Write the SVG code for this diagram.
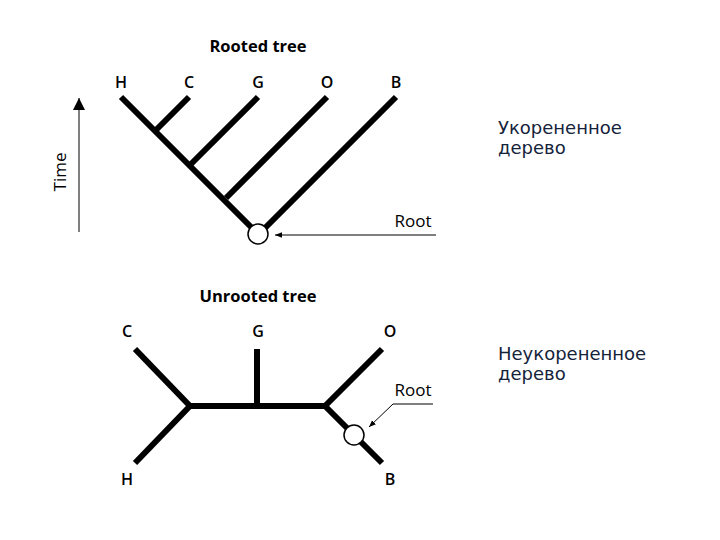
<svg xmlns="http://www.w3.org/2000/svg" width="720" height="540" viewBox="0 0 720 540">
<defs>
<style>
.br{stroke:#000;stroke-width:6;fill:none;stroke-linecap:butt}
.thin{stroke:#000;stroke-width:1;fill:none}
.lbl{font-family:"Open Sans","Noto Sans",sans-serif;font-size:16px;font-weight:600;fill:#000;text-anchor:middle}
.rt{font-family:"Open Sans","Noto Sans",sans-serif;font-size:17px;fill:#000;text-anchor:middle}
.ttl{font-family:"Open Sans","Noto Sans",sans-serif;font-size:16.5px;font-weight:bold;fill:#000;text-anchor:middle}
.ru{font-family:"DejaVu Sans",sans-serif;font-size:18px;fill:#14233a}
.node{fill:#fff;stroke:#000;stroke-width:1.5}
</style>
<marker id="ah" viewBox="0 0 10 10" refX="10" refY="5" markerWidth="7" markerHeight="7" orient="auto" markerUnits="userSpaceOnUse"><path d="M0,1 L10,5 L0,9 z" fill="#000"/></marker>
<marker id="big" viewBox="0 0 10 10" refX="10" refY="5" markerWidth="12" markerHeight="12" orient="auto" markerUnits="userSpaceOnUse"><path d="M0,0 L10,5 L0,10 z" fill="#000"/></marker>
</defs>
<rect width="720" height="540" fill="#fff"/>

<g id="rooted">
<text class="ttl" x="258" y="52">Rooted tree</text>
<g id="connectors-rooted">
<line class="br" x1="121" y1="97" x2="251" y2="227"/>
<line class="br" x1="396" y1="97" x2="265" y2="228"/>
<line class="br" x1="189" y1="97" x2="156" y2="130"/>
<line class="br" x1="258" y1="97" x2="191" y2="164"/>
<line class="br" x1="327" y1="97" x2="226" y2="198"/>
<line class="thin" x1="436" y1="235" x2="275" y2="235" marker-end="url(#ah)"/>
<line class="thin" x1="79" y1="232" x2="79" y2="98" marker-end="url(#big)"/>
</g>
<g id="r-H"><text class="lbl" x="121" y="88">H</text></g>
<g id="r-C"><text class="lbl" x="189" y="88">C</text></g>
<g id="r-G"><text class="lbl" x="258" y="88">G</text></g>
<g id="r-O"><text class="lbl" x="327" y="88">O</text></g>
<g id="r-B"><text class="lbl" x="396" y="88">B</text></g>
<g id="r-root"><circle class="node" cx="258" cy="234" r="10"/></g>
<text class="rt" x="413" y="227">Root</text>
<text class="rt" x="0" y="0" transform="translate(66,172) rotate(-90)">Time</text>
</g>

<g id="unrooted">
<text class="ttl" x="258" y="302">Unrooted tree</text>
<g id="connectors-unrooted">
<line class="br" x1="135" y1="349" x2="190" y2="406"/>
<line class="br" x1="135" y1="463" x2="190" y2="406"/>
<line class="br" x1="188" y1="406" x2="327" y2="406"/>
<line class="br" x1="257" y1="349" x2="257" y2="406"/>
<line class="br" x1="382" y1="349" x2="325" y2="406"/>
<line class="br" x1="325" y1="406" x2="382" y2="463"/>
<polyline class="thin" points="433,404 393,404 369,427" marker-end="url(#ah)"/>
</g>
<g id="u-C"><text class="lbl" x="127" y="337">C</text></g>
<g id="u-G"><text class="lbl" x="258" y="337">G</text></g>
<g id="u-O"><text class="lbl" x="390" y="337">O</text></g>
<g id="u-H"><text class="lbl" x="127" y="485">H</text></g>
<g id="u-B"><text class="lbl" x="390" y="485">B</text></g>
<g id="u-root"><circle class="node" cx="354" cy="435" r="10"/></g>
<text class="rt" x="413" y="396">Root</text>
</g>

<g id="captions">
<text class="ru" x="498" y="134">Укорененное</text>
<text class="ru" x="498" y="154">дерево</text>
<text class="ru" x="498" y="360">Неукорененное</text>
<text class="ru" x="498" y="380">дерево</text>
</g>
</svg>
